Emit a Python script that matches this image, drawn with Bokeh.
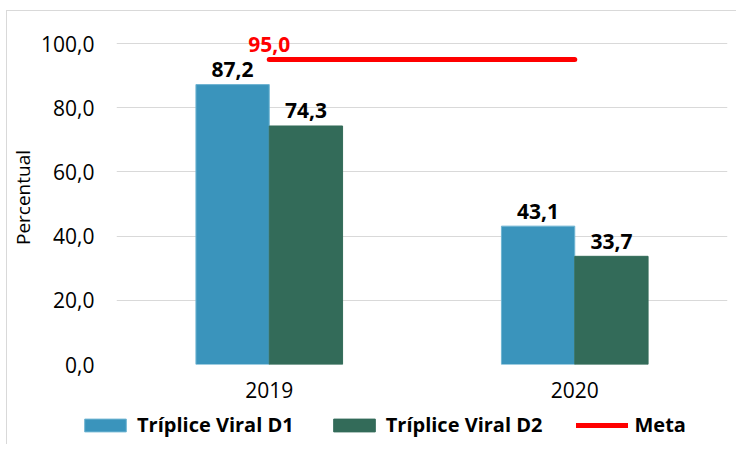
from bokeh.plotting import figure
from bokeh.models import FactorRange, Range1d, FixedTicker, Legend, LegendItem, ColumnDataSource
from bokeh.transform import dodge
from bokeh.embed import file_html
from bokeh.resources import INLINE
from bokeh.core.properties import value

years = ["2019", "2020"]
d1 = [87.2, 43.1]
d2 = [74.3, 33.7]
meta = [95.0, 95.0]
series_names = ["Tríplice Viral D1", "Tríplice Viral D2", "Meta"]
y_ticks = [0, 20, 40, 60, 80, 100]
y_tick_labels = ["0,0", "20,0", "40,0", "60,0", "80,0", "100,0"]

FONT = "Open Sans"
C_D1 = "#3A94BC"
C_D2 = "#336B59"
C_META = "#FF0000"


def fmt(v):
    return f"{v:.1f}".replace(".", ",")


src = ColumnDataSource(dict(
    year=years, d1=d1, d2=d2, meta=meta,
    d1_lbl=[fmt(v) for v in d1], d2_lbl=[fmt(v) for v in d2],
))
meta_src = ColumnDataSource(dict(year=years[:1], meta=meta[:1], lbl=[fmt(meta[0])]))

# headroom above 100 so the "95,0" label is not clipped
p = figure(x_range=FactorRange(*years), y_range=Range1d(0, 104.05),
           frame_width=611, frame_height=334, output_backend="svg", toolbar_location=None,
           min_border_left=108, min_border_right=9, min_border_top=19, min_border_bottom=46)
p.styles = {"margin-left": "6px", "margin-top": "10px",
            "border-left": "1px solid #d9d9d9", "border-top": "1px solid #d9d9d9"}
p.outline_line_color = None
p.background_fill_color = "white"
p.border_fill_color = "white"

r1 = p.vbar(x=dodge("year", -0.12, range=p.x_range), top="d1", width=0.24, source=src,
            fill_color=C_D1, line_color="#6FB4D2", line_width=1)
r2 = p.vbar(x=dodge("year", 0.12, range=p.x_range), top="d2", width=0.24, source=src,
            fill_color=C_D2, line_color=C_D2)
r3 = p.line(x="year", y="meta", source=src, line_color=C_META, line_width=5, line_cap="round")

p.text(x=dodge("year", -0.12, range=p.x_range), y="d1", text="d1_lbl", source=src,
       text_align="center", text_baseline="alphabetic", y_offset=-15,
       text_font=value(FONT), text_font_style="bold", text_font_size="21px", text_color="black")
p.text(x=dodge("year", 0.12, range=p.x_range), y="d2", text="d2_lbl", source=src,
       text_align="center", text_baseline="alphabetic", y_offset=-15,
       text_font=value(FONT), text_font_style="bold", text_font_size="21px", text_color="black")
p.text(x="year", y="meta", text="lbl", source=meta_src,
       text_align="center", text_baseline="alphabetic", y_offset=-15,
       text_font=value(FONT), text_font_style="bold", text_font_size="21px", text_color=C_META)

p.xgrid.grid_line_color = None
p.ygrid.grid_line_color = "#d9d9d9"
p.ygrid.grid_line_width = 1
p.yaxis.ticker = FixedTicker(ticks=y_ticks)
p.yaxis.major_label_overrides = {t: l for t, l in zip(y_ticks, y_tick_labels)}

for ax in (p.xaxis[0], p.yaxis[0]):
    ax.axis_line_color = None
    ax.major_tick_line_color = None
    ax.minor_tick_line_color = None
    ax.major_tick_out = 0
    ax.major_tick_in = 0
    ax.minor_tick_out = 0
    ax.major_label_text_font = FONT
    ax.major_label_text_font_size = "21px"
    ax.major_label_text_color = "black"

p.yaxis.major_label_standoff = 22
p.xaxis.major_label_standoff = 17
p.yaxis.axis_label = "Percentual"
p.yaxis.axis_label_text_font = FONT
p.yaxis.axis_label_text_font_size = "19px"
p.yaxis.axis_label_text_font_style = "normal"
p.yaxis.axis_label_text_color = "black"
p.yaxis.axis_label_standoff = 2

# legend strip below the chart (separate root so its frame is not aligned to the chart's)
lf = figure(width=728, height=34, output_backend="svg", toolbar_location=None,
            x_range=Range1d(0, 1), y_range=Range1d(0, 1),
            x_axis_location=None, y_axis_location=None,
            min_border_left=0, min_border_right=0, min_border_top=0, min_border_bottom=0)
lf.styles = {"margin-left": "6px", "border-left": "1px solid #d9d9d9"}
lf.grid.grid_line_color = None
lf.outline_line_color = None
lf.background_fill_color = "white"
lf.border_fill_color = "white"
nan = float("nan")
e_src = ColumnDataSource(dict(x=[nan], y=[nan]))
l1 = lf.vbar(x="x", top="y", width=0.1, source=e_src, fill_color=C_D1, line_color="#6FB4D2")
l2 = lf.vbar(x="x", top="y", width=0.1, source=e_src, fill_color=C_D2, line_color=C_D2)
l3 = lf.line(x="x", y="y", source=e_src, line_color=C_META, line_width=5, line_cap="round")

legend = Legend(items=[LegendItem(label=series_names[0], renderers=[l1]),
                       LegendItem(label=series_names[1], renderers=[l2]),
                       LegendItem(label=series_names[2], renderers=[l3])],
                orientation="horizontal", location=(72, 6),
                glyph_width=52, glyph_height=16, label_standoff=6, spacing=34,
                padding=0, margin=0, border_line_color=None, background_fill_alpha=0,
                label_text_font=FONT, label_text_font_size="20px",
                label_text_font_style="bold", label_text_color="black")
lf.add_layout(legend)

open("out.html", "w").write(file_html([p, lf], INLINE))
